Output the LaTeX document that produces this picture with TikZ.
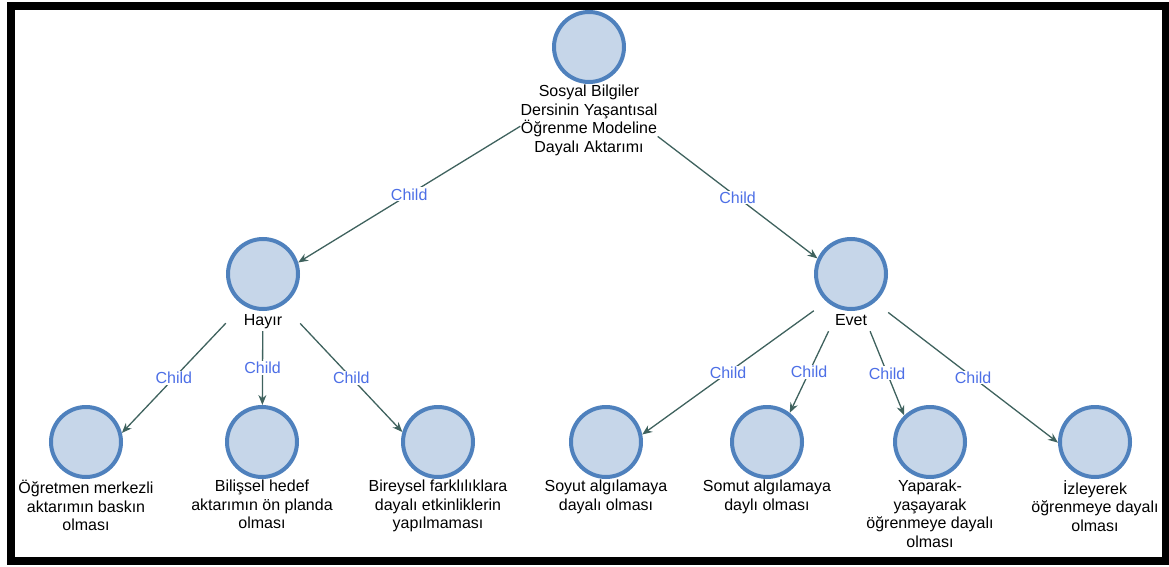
\documentclass[tikz,border=0pt]{standalone}
\usepackage{fontspec}
\setmainfont{Liberation Sans}
\usetikzlibrary{positioning,fit,calc,intersections,arrows.meta}

\definecolor{ringblue}{HTML}{4F81BD}
\definecolor{discblue}{HTML}{C6D6E9}
\definecolor{linkgreen}{HTML}{3F625E}
\definecolor{childblue}{HTML}{4D6FE6}

\tikzset{
  disc/.style={circle,draw=ringblue,fill=discblue,line width=4pt,minimum size=70pt,inner sep=0pt},
  caption/.style={align=center,inner sep=0pt,font=\fontsize{16}{18.6}\selectfont,execute at begin node=\strut},
  grp/.style={inner sep=0pt,fit=#1},
  link/.style={draw=linkgreen,line width=1.3pt,-{Stealth[length=10pt,width=8pt]}},
  childlbl/.style={text=childblue,fill=white,inner sep=1pt,font=\fontsize{16}{18.6}\selectfont}
}

\begin{document}
\begin{tikzpicture}[x=1pt,y=-1pt]
\useasboundingbox (0,0) rectangle (1169,567);
\draw[line width=8pt] (11,6) rectangle (1165.5,561);

% root and the two answers
\node[disc] (root) at (589,47) {};
\node[caption,below=1pt of root] (rootT) {Sosyal Bilgiler\\Dersinin Yaşantısal\\Öğrenme Modeline\\Dayalı Aktarımı};
\node[disc] (hayir) at (263,274) {};
\node[caption,below=1pt of hayir] (hayirT) {Hayır};
\node[disc] (evet) at (851,274) {};
\node[caption,below=1pt of evet] (evetT) {Evet};

% leaves
\node[disc] (ogretmen) at (86,442) {};
\node[caption,below=1pt of ogretmen] (ogretmenT) {Öğretmen merkezli\\aktarımın baskın\\olması};
\node[disc] (bilissel) at (262,442) {};
\node[caption,below=1pt of bilissel] (bilisselT) {Bilişsel hedef\\aktarımın ön planda\\olması};
\node[disc] (bireysel) at (438,442) {};
\node[caption,below=1pt of bireysel] (bireyselT) {Bireysel farklılıklara\\dayalı etkinliklerin\\yapılmaması};
\node[disc] (soyut) at (606,442) {};
\node[caption,below=1pt of soyut] (soyutT) {Soyut algılamaya\\dayalı olması};
\node[disc] (somut) at (767,442) {};
\node[caption,below=1pt of somut] (somutT) {Somut algılamaya\\daylı olması};
\node[disc] (yaparak) at (930,442) {};
\node[caption,below=1pt of yaparak] (yaparakT) {Yaparak-\\yaşayarak\\öğrenmeye dayalı\\olması};
\node[disc] (izleyerek) at (1095,442) {};
\node[caption,below=1pt of izleyerek] (izleyerekT) {İzleyerek\\öğrenmeye dayalı\\olması};

% boxes round circle + text
\foreach \n in {root,hayir,evet,ogretmen,bilissel,bireysel,soyut,somut,yaparak,izleyerek}
  \node[grp=(\n)(\n T)] (\n-box) {};

\foreach \a/\b in {root/hayir,root/evet,hayir/ogretmen,hayir/bilissel,hayir/bireysel,
                   evet/soyut,evet/somut,evet/yaparak,evet/izleyerek}{
  \path[name path=ln] (\a-box.center) -- (\b-box.center);
  \path[name path=cc] (\b) circle (37pt);
  \path[name intersections={of=ln and cc,by=tip}];
  \draw[link] (\a-box) -- (tip) node[childlbl,midway] {Child};
}

\end{tikzpicture}
\end{document}
